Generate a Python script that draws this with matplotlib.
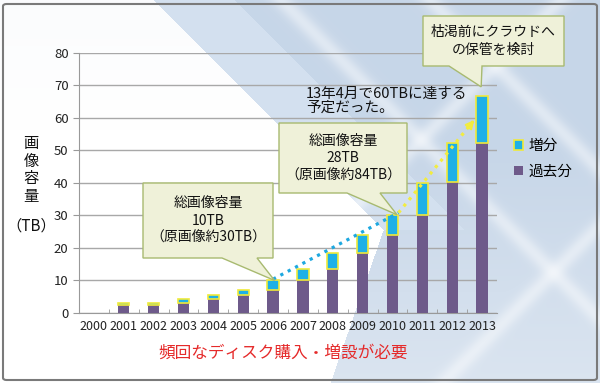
import numpy as np
import matplotlib.pyplot as plt
from matplotlib.patches import Patch, FancyBboxPatch, Polygon

plt.rcParams['font.family'] = ['Noto Sans CJK JP', 'DejaVu Sans']

# data (TB)
years = ['2000', '2001', '2002', '2003', '2004', '2005', '2006',
         '2007', '2008', '2009', '2010', '2011', '2012', '2013']
past = [0, 2.55, 2.6, 3.05, 4.2, 5.4, 7.1, 10.0, 13.4, 18.4, 24.0, 30.0, 40.2, 52.2]
increase = [0, 0.4, 0.5, 1.35, 1.4, 1.8, 2.9, 3.4, 5.0, 5.6, 6.2, 10.1, 12.0, 14.4]
total = [p + d for p, d in zip(past, increase)]

# dotted trend lines (fractional year index, TB)
trend_blue_x = [6.0, 10.2]
trend_blue_y = [10.4, 30.8]
trend_yellow_x = [10.2, 12.8]
trend_yellow_y = [30.8, 60.0]

W, H = 600, 383
fig = plt.figure(figsize=(W / 100, H / 100), dpi=100)


def fp(x, y):
    # image pixel (top-left origin) -> figure fraction
    return (x / W, 1 - y / H)


# background
bg = fig.add_axes([0, 0, 1, 1], zorder=-5)
yy, xx = np.mgrid[0:H, 0:W].astype(float)
img = np.ones((H, W, 3))
top = np.clip(1 - yy / 130, 0, 1)[..., None]
img = img * (1 - top * 0.12) + np.array([0.86, 0.90, 0.95]) * top * 0.12
bound = np.where(yy < 230, 153 + yy, 383 - (yy - 230) * 53 / 153)
blue = (xx > bound)[..., None]
shade = np.clip((yy - 150) / 230, 0, 1)[..., None]
bluecol = np.array([0.78, 0.84, 0.91]) * (1 - shade * 0.35) + shade * 0.35
img = np.where(blue, bluecol, img)
band = ((xx - yy > 153) & (xx - yy < 235) & (yy < 230))[..., None]
img = np.where(band, np.array([0.83, 0.88, 0.94]), img)
for d in [np.abs(xx - yy - 281) / 1.41, np.abs(xx + yy - 825) / 1.41,
          np.abs(xx + yy - 560) / 1.41, np.abs(xx - yy - 430) / 1.41]:
    s = (np.exp(-d ** 2 / (2 * 6 ** 2)) * 0.45)[..., None] * blue
    img = img * (1 - s) + s
bg.imshow(img, aspect='auto', extent=[0, W, H, 0])
bg.set_axis_off()
fig.patches.append(FancyBboxPatch(fp(3, 380), 594 / W, 376 / H,
                                  boxstyle='round,pad=0,rounding_size=0.006',
                                  transform=fig.transFigure, fill=False,
                                  ec='#7a7a7a', lw=1.5))

ax = fig.add_axes([79 / W, 1 - 313 / H, 418 / W, 260.3 / H])
ax.set_facecolor('none')
x = np.arange(len(years))
ax.bar(x, past, width=0.38, color='#6e5a8a', zorder=3)
ax.bar(x, increase, width=0.38, bottom=past, color='#1eb0e6',
       edgecolor=['#f0ea3a' if v > 0 else 'none' for v in increase],
       linewidth=1.2, zorder=3)

ax.plot(trend_blue_x, trend_blue_y, ls=(0, (1, 1.6)), lw=2.3, color='#1ea8e0', zorder=4)
ax.plot(trend_yellow_x[:1] + [trend_yellow_x[1] - 0.1],
        trend_yellow_y[:1] + [trend_yellow_y[1] - 1.1],
        ls=(0, (1, 1.6)), lw=2.3, color='#f2ec40', zorder=4)
ax.annotate('', xy=(trend_yellow_x[1], trend_yellow_y[1]),
            xytext=(trend_yellow_x[1] - 0.25, trend_yellow_y[1] - 2.8),
            arrowprops=dict(arrowstyle='-|>,head_length=0.5,head_width=0.25',
                            color='#f2ec40', lw=1.5), zorder=5)

ax.set_xlim(-0.5, 13.5)
ax.set_ylim(0, 80)
ax.set_yticks(range(0, 81, 10))
ax.set_xticks(x)
ax.set_xticklabels(years)
ax.set_xticks(x[:-1] + 0.5, minor=True)
ax.tick_params(axis='x', which='major', length=0, labelsize=9, pad=5, colors='#222222')
ax.tick_params(axis='x', which='minor', length=3, direction='in', color='#999999')
ax.tick_params(axis='y', length=4, color='#999999', labelsize=9.5, labelcolor='#222222')
ax.grid(axis='y', color='#a8a8a8', lw=1.0, zorder=1)
for s in ['top', 'right']:
    ax.spines[s].set_visible(False)
for s in ['left', 'bottom']:
    ax.spines[s].set_color('#999999')


def callout(text, box, base, tip):
    # box = (left, top, right, bottom) in image pixels, base = pointer x-range on bottom edge
    L, T, R, B = box
    tipf = fig.transFigure.inverted().transform(ax.transData.transform(tip))
    pts = [fp(L, T), fp(R, T), fp(R, B), fp(base[1], B), tuple(tipf),
           fp(base[0], B), fp(L, B)]
    fig.patches.append(Polygon(pts, closed=True, transform=fig.transFigure,
                               fc='#eff1d9', ec='#a8ba70', lw=1.0, zorder=6))
    fig.text(*fp((L + R) / 2, (T + B) / 2), text, ha='center', va='center',
             fontsize=10, linespacing=1.3, color='#111111', zorder=7)


callout('総画像容量\n10TB\n（原画像約30TB）', (143, 183, 273, 258), (222, 257),
        (6.05, total[6]))
callout('総画像容量\n28TB\n（原画像約84TB）', (279, 123, 407, 193), (347, 380),
        (10.15, total[10]))
callout('枯渇前にクラウドへ\nの保管を検討', (423, 16, 564, 66), (449, 482),
        (12.97, 69.5))
fig.text(*fp(306, 101), '13年4月で60TBに達する\n予定だった。', ha='left', va='center',
         fontsize=10.5, linespacing=1.0, color='#111111')

# y label
fig.text(*fp(31, 170), '画\n像\n容\n量', ha='center', va='center',
         fontsize=11, linespacing=1.05, color='#111111')
fig.text(*fp(31, 226), '（TB）', ha='center', va='center', fontsize=11, color='#111111')

# legend
fig.legend(handles=[Patch(fc='#1eb0e6', ec='#f0ea3a', lw=1.2, label='増分'),
                    Patch(fc='#6e5a8a', label='過去分')],
           loc='center left', bbox_to_anchor=fp(501, 159), frameon=False,
           fontsize=10.5, handlelength=0.6, handleheight=0.6,
           handletextpad=0.4, labelspacing=0.8)

fig.text(*fp(283, 353), '頻回なディスク購入・増設が必要', ha='center', va='center',
         fontsize=12, color='#e52a2a')

fig.savefig('out.png', dpi=100)
